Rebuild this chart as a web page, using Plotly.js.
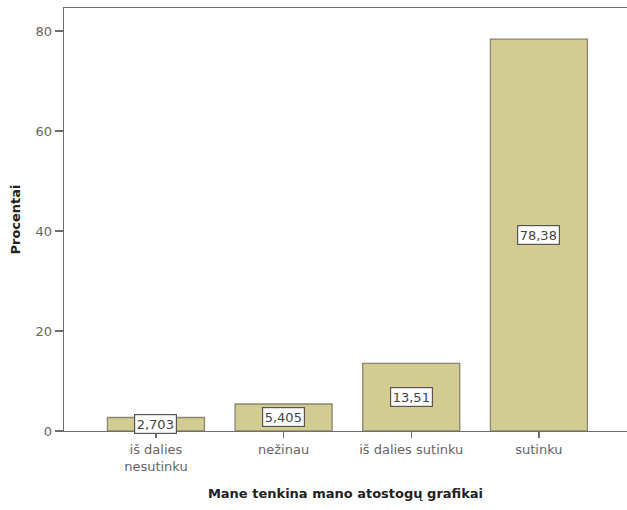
<!DOCTYPE html>
<html>
<head>
<meta charset="utf-8">
<script src="https://cdn.plot.ly/plotly-3.0.1.min.js"></script>
<style>html,body{margin:0;padding:0;background:#fff}#chart{width:627px;height:510px}</style>
</head>
<body>
<div id="chart"></div>
<script>
const categories = ["iš dalies<br>nesutinku", "nežinau", "iš dalies sutinku", "sutinku"];
const percents = [2.703, 5.405, 13.51, 78.38];
const valueLabels = ["2,703", "5,405", "13,51", "78,38"];
const yTicks = [0, 20, 40, 60, 80];

const FONT = "DejaVu Sans, Arial, sans-serif";

const trace = {
  type: "bar",
  x: categories,
  y: percents,
  width: 0.76,
  marker: {color: "#d2cb92", line: {color: "#8a8670", width: 1.3}},
  hoverinfo: "none"
};

const annotations = categories.map((c, i) => ({
  x: c, y: percents[i] / 2, xref: "x", yref: "y",
  text: valueLabels[i], showarrow: false,
  bgcolor: "#ffffff", bordercolor: "#555555", borderwidth: 1.2, borderpad: 1.5,
  font: {family: FONT, size: 13, color: "#444"}
}));

const layout = {
  width: 627, height: 510,
  margin: {l: 64, r: 0, t: 8, b: 79},
  paper_bgcolor: "#fff", plot_bgcolor: "#fff",
  showlegend: false,
  font: {family: FONT, size: 13, color: "#666"},
  xaxis: {
    type: "category",
    range: [-0.72, 3.69],
    showline: true, linecolor: "#6e6e6e", linewidth: 1.3, mirror: true,
    ticks: "outside", ticklen: 6, tickcolor: "#6e6e6e", tickwidth: 1.3,
    showgrid: false, zeroline: false,
    tickfont: {family: FONT, size: 13, color: "#666"},
    title: {text: "Mane tenkina mano atostogų grafikai", standoff: 16,
            font: {size: 13, color: "#222", family: FONT, weight: "bold"}}
  },
  yaxis: {
    range: [0, 84.6],
    tickvals: yTicks,
    showline: true, linecolor: "#6e6e6e", linewidth: 1.3,
    ticks: "outside", ticklen: 8, tickcolor: "#6e6e6e", tickwidth: 1.3,
    showgrid: false, zeroline: false,
    tickfont: {family: FONT, size: 13, color: "#666"},
    title: {text: "Procentai", standoff: 12,
            font: {size: 13, color: "#222", family: FONT, weight: "bold"}}
  },
  annotations: annotations
};

Plotly.newPlot("chart", [trace], layout, {displayModeBar: false, staticPlot: true});
</script>
</body>
</html>
